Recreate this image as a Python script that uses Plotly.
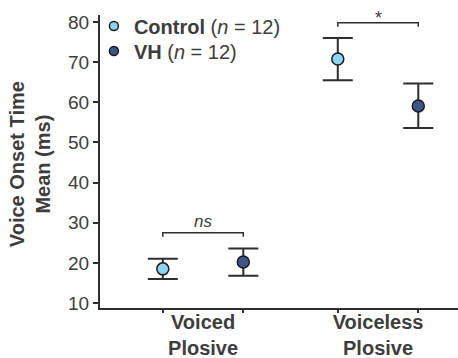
import plotly.graph_objects as go

categories = ["<b>Voiced</b><br><b>Plosive</b>", "<b>Voiceless</b><br><b>Plosive</b>"]
control_mean = [18.5, 70.8]
control_err_plus = [2.5, 5.2]
control_err_minus = [2.5, 5.3]
vh_mean = [20.2, 59.1]
vh_err_plus = [3.4, 5.6]
vh_err_minus = [3.4, 5.5]
sig_labels = ["ns", "*"]
sig_heights = [27.5, 79.8]
y_ticks = [10, 20, 30, 40, 50, 60, 70, 80]

OFF = 0.23
group_pos = [i + 1 for i in range(len(categories))]
ctrl_x = [g - OFF for g in group_pos]
vh_x = [g + OFF for g in group_pos]

FONT = "Arial, Liberation Sans, sans-serif"
TXT = "#3d3d3d"
LINE = "#2e2e2e"
C_CTRL = "#8dd3f2"
C_VH = "#3d5587"

fig = go.Figure()

fig.add_trace(go.Scatter(
    x=ctrl_x, y=control_mean, mode="markers", showlegend=False,
    marker=dict(size=12, color=C_CTRL, line=dict(color="#1a1a1a", width=1.5)),
    error_y=dict(type="data", symmetric=False, array=control_err_plus,
                 arrayminus=control_err_minus, width=15, thickness=2, color=LINE),
))
fig.add_trace(go.Scatter(
    x=vh_x, y=vh_mean, mode="markers", showlegend=False,
    marker=dict(size=12, color=C_VH, line=dict(color="#1a1a1a", width=1.5)),
    error_y=dict(type="data", symmetric=False, array=vh_err_plus,
                 arrayminus=vh_err_minus, width=15, thickness=2, color=LINE),
))
# legend entries (separate legends to control row spacing)
fig.add_trace(go.Scatter(
    x=[None], y=[None], mode="markers", name="<b>Control</b> (<i>n</i> = 12)",
    legend="legend",
    marker=dict(size=9, color=C_CTRL, line=dict(color="#1a1a1a", width=1.5)),
))
fig.add_trace(go.Scatter(
    x=[None], y=[None], mode="markers", name="<b>VH</b> (<i>n</i> = 12)",
    legend="legend2",
    marker=dict(size=9, color=C_VH, line=dict(color="#1a1a1a", width=1.5)),
))
# dummy trace on x2 for category labels
fig.add_trace(go.Scatter(x=group_pos, y=[None, None], xaxis="x2", showlegend=False,
                         mode="markers", hoverinfo="skip"))

# significance brackets
for cx, vx, h, lab in zip(ctrl_x, vh_x, sig_heights, sig_labels):
    fig.add_shape(type="path",
                  path=f"M {cx} {h-1.0} L {cx} {h} L {vx} {h} L {vx} {h-1.0}",
                  line=dict(color=LINE, width=1.5), xref="x", yref="y")
    is_ns = lab == "ns"
    fig.add_annotation(x=(cx + vx) / 2, y=h + (2.8 if is_ns else 1.1),
                       text=f"<i>{lab}</i>" if is_ns else lab,
                       showarrow=False, yanchor="middle",
                       font=dict(family=FONT, size=17 if is_ns else 18, color=TXT))

# y-axis title
fig.add_annotation(xref="paper", yref="paper", x=-0.1955, y=0.491,
                   text="<b>Voice Onset Time</b><br><b>Mean (ms)</b>",
                   textangle=-90, showarrow=False, xanchor="center", yanchor="middle",
                   font=dict(family=FONT, size=20, color=TXT))

leg_common = dict(xanchor="left", yanchor="middle",
                  font=dict(family=FONT, size=20, color=TXT),
                  bgcolor="rgba(0,0,0,0)", itemsizing="trace")

fig.update_layout(
    width=458, height=358,
    margin=dict(l=100, r=0, t=15, b=50),
    paper_bgcolor="white", plot_bgcolor="white",
    font=dict(family=FONT, color=TXT),
    legend=dict(x=-0.017, y=0.9625, **leg_common),
    legend2=dict(x=-0.017, y=0.877, **leg_common),
    xaxis=dict(range=[0.411, 2.457], tickvals=ctrl_x + vh_x,
               ticktext=["", "", "", ""], ticks="outside", ticklen=3,
               tickwidth=1.5, tickcolor=LINE, showgrid=False, zeroline=False,
               showline=True, linecolor=LINE, linewidth=2, automargin=False),
    xaxis2=dict(range=[0.411, 2.457], overlaying="x", side="bottom",
                tickvals=group_pos, ticktext=categories, ticks="", ticklen=0,
                ticklabelstandoff=0,
                tickfont=dict(family=FONT, size=20, color=TXT),
                showgrid=False, zeroline=False, showline=False, automargin=False),
    yaxis=dict(range=[8.75, 81.75], tickvals=y_ticks, ticks="outside",
               ticklen=5, tickwidth=1.5, tickcolor=LINE,
               tickfont=dict(family=FONT, size=19, color=TXT),
               showgrid=False, zeroline=False, showline=True,
               linecolor=LINE, linewidth=2, automargin=False),
)

fig.write_html("out.html", config={"displayModeBar": False},
               post_script="document.body.style.margin='0';")
